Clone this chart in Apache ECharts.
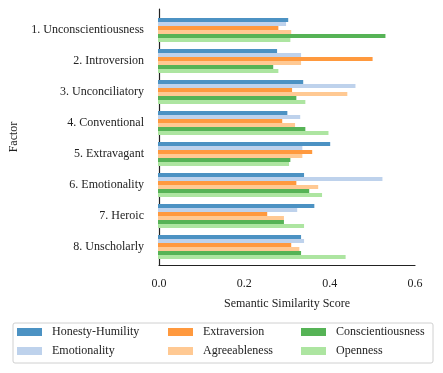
<!DOCTYPE html>
<html>
<head>
<meta charset="utf-8">
<script src="https://cdn.jsdelivr.net/npm/echarts@6/dist/echarts.min.js"></script>
<style>
  html, body { margin: 0; padding: 0; background: #fff; }
  #main { width: 443px; height: 373px; }
</style>
</head>
<body>
<div id="main"></div>
<script>
var factors = ['1. Unconscientiousness', '2. Introversion', '3. Unconciliatory', '4. Conventional',
  '5. Extravagant', '6. Emotionality', '7. Heroic', '8. Unscholarly'];
var traitNames = ['Honesty-Humility', 'Emotionality', 'Extraversion', 'Agreeableness', 'Conscientiousness', 'Openness'];
var traitColors = ['#4c92c3', '#bed2ec', '#ff993e', '#ffc993', '#56b356', '#ade5a1'];

var honestyHumility = [0.304, 0.278, 0.339, 0.302, 0.402, 0.341, 0.365, 0.334];
var emotionality = [0.299, 0.334, 0.461, 0.332, 0.337, 0.524, 0.325, 0.341];
var extraversion = [0.281, 0.501, 0.313, 0.290, 0.360, 0.323, 0.255, 0.311];
var agreeableness = [0.311, 0.334, 0.442, 0.320, 0.337, 0.374, 0.294, 0.330];
var conscientiousness = [0.531, 0.269, 0.323, 0.344, 0.309, 0.353, 0.294, 0.334];
var openness = [0.309, 0.281, 0.344, 0.398, 0.306, 0.383, 0.341, 0.438];

var values = [honestyHumility, emotionality, extraversion, agreeableness, conscientiousness, openness];
var font = 'Liberation Serif';
var fs = 12;

var chart = echarts.init(document.getElementById('main'), null, { renderer: 'canvas' });

var series = traitNames.map(function (name, i) {
  return {
    name: name,
    type: 'bar',
    xAxisIndex: 1,
    yAxisIndex: 1,
    data: values[i],
    itemStyle: { color: traitColors[i] },
    barWidth: 4,
    barGap: '0%',
    silent: true
  };
});

// one legend per column, like matplotlib ncol=3
function legendCol(left, names) {
  return {
    orient: 'vertical',
    left: left,
    top: 326,
    padding: 0,
    data: names,
    itemWidth: 25,
    itemHeight: 8,
    itemGap: 7,
    icon: 'rect',
    selectedMode: false,
    textStyle: { fontFamily: font, fontSize: fs, color: '#222', padding: [0, 0, 0, 5] }
  };
}

var option = {
  animation: false,
  backgroundColor: '#fff',
  grid: [
    { left: 158, top: 9, width: 257, height: 256 },
    { left: 158, top: 14.5, width: 257, height: 248 }
  ],
  xAxis: [
    {
      gridIndex: 0,
      type: 'value',
      min: 0,
      max: 0.6,
      interval: 0.2,
      name: 'Semantic Similarity Score',
      nameLocation: 'middle',
      nameGap: 33,
      nameTextStyle: { fontFamily: font, fontSize: fs, color: '#222' },
      axisLine: { show: true, lineStyle: { color: '#222', width: 1.2 } },
      axisTick: { show: false },
      splitLine: { show: false },
      axisLabel: {
        fontFamily: font, fontSize: fs, color: '#222', margin: 13,
        formatter: function (v) { return v.toFixed(1); }
      }
    },
    {
      gridIndex: 1,
      type: 'value',
      min: 0,
      max: 0.6,
      show: false
    }
  ],
  yAxis: [
    {
      gridIndex: 0,
      type: 'value',
      min: 0,
      max: 1,
      name: 'Factor',
      nameLocation: 'middle',
      nameRotate: 90,
      nameGap: 139,
      nameTextStyle: { fontFamily: font, fontSize: fs, color: '#222' },
      axisLine: { show: true, lineStyle: { color: '#222', width: 1.2 } },
      axisTick: { show: false },
      axisLabel: { show: false },
      splitLine: { show: false }
    },
    {
      gridIndex: 1,
      type: 'category',
      data: factors,
      inverse: true,
      axisLine: { show: false },
      axisTick: { show: false },
      axisLabel: { fontFamily: font, fontSize: fs, color: '#222', margin: 14 }
    }
  ],
  legend: [
    legendCol(17, traitNames.slice(0, 2)),
    legendCol(168, traitNames.slice(2, 4)),
    legendCol(301, traitNames.slice(4, 6))
  ],
  graphic: [{
    type: 'rect',
    shape: { x: 13, y: 323, width: 420, height: 40, r: 2 },
    style: { fill: 'none', stroke: '#d0d0d0', lineWidth: 1 },
    z: -1
  }],
  series: series
};

chart.setOption(option);
</script>
</body>
</html>
